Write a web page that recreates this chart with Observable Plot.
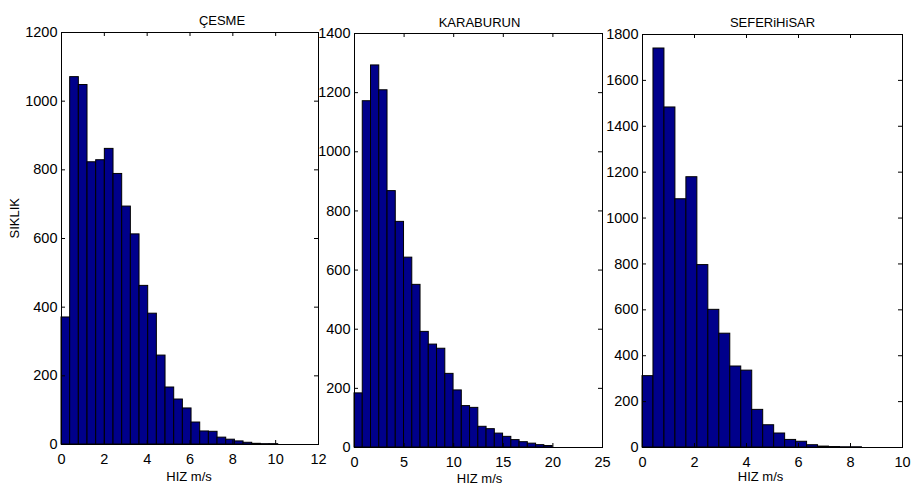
<!DOCTYPE html>
<html><head><meta charset="utf-8">
<script src="https://cdn.jsdelivr.net/npm/d3@7"></script>
<script src="https://cdn.jsdelivr.net/npm/@observablehq/plot@0.6"></script>
<style>
body{margin:0;background:#fff;}
#chart{position:relative;width:911px;height:489px;overflow:hidden;background:#fff;}
#chart svg{position:absolute;left:0;top:0;}
</style></head><body><div id="chart"></div>
<script>
// ---- data ----
const titles = ["ÇESME", "KARABURUN", "SEFERiHiSAR"];
const xLabel = "HIZ m/s";
const yLabel = "SIKLIK";

const cesmeCounts = [370, 1070, 1047, 822, 828, 861, 788, 693, 612, 462, 381, 259, 166, 131, 105, 64, 38, 37, 20, 14, 9, 5, 2, 1, 1];
const cesmeRange = [0, 10.12];
const cesmeXTicks = [0, 2, 4, 6, 8, 10, 12];
const cesmeYTicks = [0, 200, 400, 600, 800, 1000, 1200];

const karaburunCounts = [183, 1171, 1292, 1208, 867, 763, 642, 550, 391, 348, 334, 249, 193, 140, 134, 70, 62, 47, 36, 25, 18, 13, 8, 5];
const karaburunRange = [0, 19.97];
const karaburunXTicks = [0, 5, 10, 15, 20, 25];
const karaburunYTicks = [0, 200, 400, 600, 800, 1000, 1200, 1400];

const seferihisarCounts = [311, 1739, 1482, 1082, 1178, 795, 600, 496, 353, 335, 164, 97, 61, 33, 25, 10, 4, 2, 1, 1];
const seferihisarRange = [0, 8.44];
const seferihisarXTicks = [0, 2, 4, 6, 8, 10];
const seferihisarYTicks = [0, 200, 400, 600, 800, 1000, 1200, 1400, 1600, 1800];

const barFill = "#00008B";

// ---- layout (pixels) ----
const W = 911, H = 489;
const panels = [
  {title: titles[0], counts: cesmeCounts, range: cesmeRange, xTicks: cesmeXTicks, yTicks: cesmeYTicks,
   left: 61, right: 318, top: 32, bottom: 444, titleDx: 32, titleDy: -17, xlDx: -1, xlDy: 36, ylabel: true},
  {title: titles[1], counts: karaburunCounts, range: karaburunRange, xTicks: karaburunXTicks, yTicks: karaburunYTicks,
   left: 354, right: 602, top: 33, bottom: 447, titleDx: 1, titleDy: -16, xlDx: 1, xlDy: 35, ylabel: false},
  {title: titles[2], counts: seferihisarCounts, range: seferihisarRange, xTicks: seferihisarXTicks, yTicks: seferihisarYTicks,
   left: 642, right: 902, top: 34, bottom: 447, titleDx: 0, titleDy: -17, xlDx: -12, xlDy: 33, ylabel: false}
];

const fmt = d3.format("d");
const chart = document.getElementById("chart");
for (const p of panels) {
  const n = p.counts.length;
  const w = (p.range[1] - p.range[0]) / n;
  const rows = p.counts.map((c, i) => ({x1: p.range[0] + i * w, x2: p.range[0] + (i + 1) * w, count: c}));
  const pw = p.right - p.left, ph = p.bottom - p.top;
  const tl = 4;
  const marks = [
    Plot.rectY(rows, {x1: "x1", x2: "x2", y: "count", fill: barFill, stroke: "black", strokeWidth: 1}),
    Plot.tickX(p.xTicks, {x: d => d, insetTop: ph - tl, stroke: "black"}),
    Plot.tickX(p.xTicks, {x: d => d, insetBottom: ph - tl, stroke: "black"}),
    Plot.tickY(p.yTicks, {y: d => d, insetRight: pw - tl, stroke: "black"}),
    Plot.tickY(p.yTicks, {y: d => d, insetLeft: pw - tl, stroke: "black"}),
    Plot.frame({stroke: "black", strokeWidth: 1}),
    Plot.axisX(p.xTicks, {tickSize: 0, tickPadding: 9, label: null, tickFormat: fmt, fontSize: 14.5}),
    Plot.axisY(p.yTicks, {tickSize: 0, tickPadding: 4, label: null, tickFormat: fmt, fontSize: 14.5}),
    Plot.text([p.title], {text: d => d, frameAnchor: "top", dx: p.titleDx, dy: p.titleDy, fontSize: 13}),
    Plot.text([xLabel], {text: d => d, frameAnchor: "bottom", dx: p.xlDx, dy: p.xlDy, fontSize: 13})
  ];
  if (p.ylabel) {
    marks.push(Plot.text([yLabel], {text: d => d, frameAnchor: "left", rotate: -90, dx: -47, fontSize: 13}));
  }
  const svg = Plot.plot({
    width: W, height: H,
    marginLeft: p.left, marginRight: W - p.right, marginTop: p.top, marginBottom: H - p.bottom,
    style: "background:transparent;font-family:'Liberation Sans',Arial,sans-serif;font-size:14px;color:black;",
    x: {domain: [p.xTicks[0], p.xTicks[p.xTicks.length - 1]]},
    y: {domain: [p.yTicks[0], p.yTicks[p.yTicks.length - 1]]},
    marks
  });
  chart.appendChild(svg);
}
</script></body></html>
